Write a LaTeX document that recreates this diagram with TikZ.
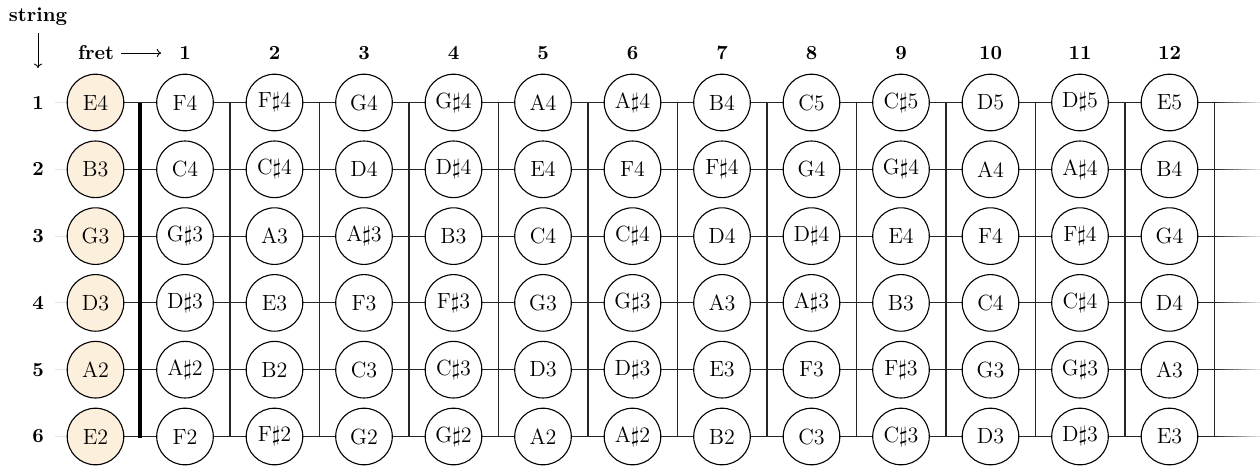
\documentclass[tikz,border=0pt]{standalone}
\usepackage{tikz}
\usetikzlibrary{arrows.meta,positioning,backgrounds}
\definecolor{openfill}{RGB}{252,239,219}
\tikzset{
  note/.style    ={draw,circle,minimum size=28.3pt,inner sep=0pt,fill=white,line width=0.55pt,
                   font=\fontsize{11}{13}\selectfont},
  opennote/.style={note,fill=openfill},
  hdr/.style     ={font=\bfseries},
  strline/.style ={line width=0.55pt,black!85},
  stub/.style    ={line width=0.55pt,gray!20},
  fretline/.style={line width=0.55pt,black!85},
  nut/.style     ={line width=2.4pt},
  hdrarrow/.style={-{To[length=2.2pt,width=4pt]},line width=0.45pt},
}
% pitch number -> note name (C4 = 48)
\newcommand{\notename}[1]{%
  \pgfmathtruncatemacro\pc{mod(#1,12)}%
  \pgfmathtruncatemacro\oct{floor(#1/12)}%
  \ifcase\pc C\or C$\sharp$\or D\or D$\sharp$\or E\or F\or F$\sharp$\or G\or G$\sharp$\or A\or A$\sharp$\or B\fi\oct}

\begin{document}
\begin{tikzpicture}[x=0.5pt,y=-0.5pt,font=\fontsize{10}{12}\selectfont]
  \useasboundingbox (0,0) rectangle (1260,468);
  % headers
  \node[hdr] (strhd) at (38,17) {string};
  \coordinate (strend) at (38,68);
  \draw[hdrarrow] (strhd) -- (strend);
  \node[hdr] (frethd) at (96,53) {fret};
  \foreach \f in {1,...,12}
    \node[hdr] (h\f) at ({185+89.5*(\f-1)},53) {\f};
  \draw[hdrarrow,shorten >=5.5pt] (frethd) -- (h1);
  % strings and notes
  \foreach \s/\open in {1/52,2/47,3/43,4/38,5/33,6/28} {
    \pgfmathsetmacro\ry{102.5+66.8*(\s-1)}
    \node[hdr] (l\s) at (38,\ry) {\s};
    \node[opennote] (s\s-0) at (95.5,\ry) {\notename{\open}};
    \foreach \f in {1,...,12} {
      \pgfmathtruncatemacro\n{\open+\f}
      \node[note] (s\s-\f) at ({185+89.5*(\f-1)},\ry) {\notename{\n}};
    }
    \coordinate (e\s) at (1214.5,\ry);
  }
  % frets
  \foreach \k in {1,...,12} {
    \coordinate (ft\k) at ({230+89.5*(\k-1)},102.5);
    \coordinate (fb\k) at ({230+89.5*(\k-1)},436.5);
  }
  \coordinate (nt) at (140,102.5);
  \coordinate (nb) at (140,437.5);
  \begin{scope}[on background layer]
    \foreach \s in {1,...,6} {
      \draw[stub,shorten <=2pt] (l\s) -- (s\s-0);
      \draw[strline] (s\s-0) -- (e\s);
      % fading string end
      \foreach \t [evaluate=\t as \shadeval using 85-8*\t] in {0,...,9}
        \draw[line width=0.55pt,black!\shadeval]
          ([xshift=2.3*\t pt]e\s) -- ([xshift=2.3*\t pt+2.3pt]e\s);
    }
    \foreach \k in {1,...,12}
      \draw[fretline] (ft\k) -- (fb\k);
    \draw[nut] (nt) -- (nb);
  \end{scope}
\end{tikzpicture}
\end{document}
